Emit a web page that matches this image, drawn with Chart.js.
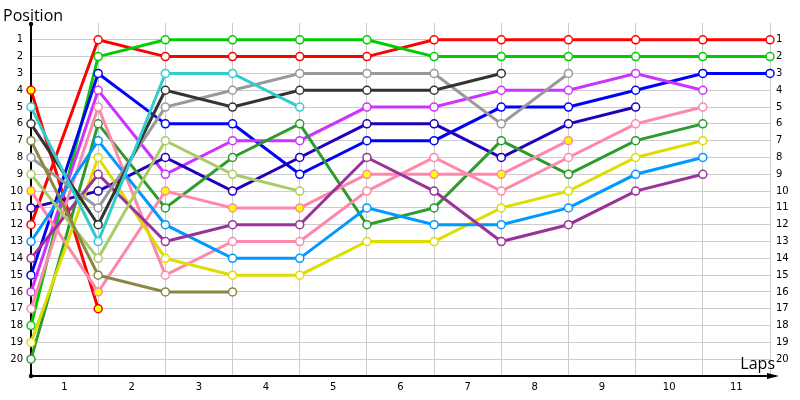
<!DOCTYPE html>
<html>
<head>
<meta charset="utf-8">
<script src="https://cdn.jsdelivr.net/npm/chart.js@4.4.1/dist/chart.umd.min.js"></script>
<style>
  html, body { margin: 0; padding: 0; background: #fff; }
  #wrap { width: 800px; height: 400px; }
</style>
</head>
<body>
<div id="wrap"><canvas id="lapChart"></canvas></div>
<script>
// lap 0 = grid, then laps 1..11
const laps = [0, 1, 2, 3, 4, 5, 6, 7, 8, 9, 10, 11];
const lapLabels = ['1', '2', '3', '4', '5', '6', '7', '8', '9', '10', '11'];
const positionLabels = [1, 2, 3, 4, 5, 6, 7, 8, 9, 10, 11, 12, 13, 14, 15, 16, 17, 18, 19, 20];

// position per lap for every car (shorter array = retired)
const redCar       = [12, 1, 2, 2, 2, 2, 1, 1, 1, 1, 1, 1];
const greenCar     = [18, 2, 1, 1, 1, 1, 2, 2, 2, 2, 2, 2];
const blueCar      = [15, 3, 6, 6, 9, 7, 7, 5, 5, 4, 3, 3];
const magentaCar   = [16, 4, 9, 7, 7, 5, 5, 4, 4, 3, 4];
const pinkCar      = [17, 5, 15, 13, 13, 10, 8, 10, 8, 6, 5];
const darkGreenCar = [20, 6, 11, 8, 6, 12, 11, 7, 9, 7, 6];
const yellowCar    = [19, 8, 14, 15, 15, 13, 13, 11, 10, 8, 7];
const skyCar       = [13, 7, 12, 14, 14, 11, 12, 12, 11, 9, 8];
const purpleCar    = [14, 9, 13, 12, 12, 8, 10, 13, 12, 10, 9];
const navyCar      = [11, 10, 8, 10, 8, 6, 6, 8, 6, 5];
const grayCar      = [8, 11, 5, 4, 3, 3, 3, 6, 3];
const pinkYellowCar = [10, 16, 10, 11, 11, 9, 9, 9, 7];
const blackCar     = [6, 12, 4, 5, 4, 4, 4, 3];
const cyanCar      = [5, 13, 3, 3, 5];
const lightGreenCar = [9, 14, 7, 9, 10];
const oliveCar     = [7, 15, 16, 16];
const red2Car      = [4, 17];

function series(positions, color, fill) {
    return {
        data: positions.map((p, i) => ({ x: laps[i], y: p })),
        borderColor: color,
        backgroundColor: color,
        borderWidth: 3,
        pointRadius: 4,
        pointHoverRadius: 4,
        pointBorderWidth: 1.5,
        pointBackgroundColor: fill || '#ffffff',
        pointBorderColor: color,
        tension: 0,
        clip: false
    };
}

const datasets = [
    series(oliveCar, '#888844'),
    series(lightGreenCar, '#aacc66'),
    series(cyanCar, '#33cccc'),
    series(blackCar, '#333333'),
    series(grayCar, '#999999'),
    series(purpleCar, '#993399'),
    series(skyCar, '#0099ff'),
    series(yellowCar, '#dddd00'),
    series(pinkYellowCar, '#ff88aa', '#ffff00'),
    series(pinkCar, '#ff88aa'),
    series(darkGreenCar, '#2e9b2e'),
    series(navyCar, '#2200bb'),
    series(magentaCar, '#cc33ff'),
    series(blueCar, '#0000ff'),
    series(red2Car, '#ff0000', '#ffff00'),
    series(greenCar, '#00cc00'),
    series(redCar, '#ff0000')
];

// axis titles, arrow and dots
const decor = {
    id: 'decor',
    afterDraw(chart) {
        const c = chart.ctx;
        const a = chart.chartArea;
        c.save();
        c.fillStyle = '#000';
        c.strokeStyle = '#000';
        c.lineWidth = 2;
        c.beginPath();
        c.moveTo(a.right, a.bottom);
        c.lineTo(a.right + 6, a.bottom);
        c.stroke();
        c.beginPath();
        c.moveTo(a.right + 9, a.bottom);
        c.lineTo(a.right - 3, a.bottom - 3);
        c.lineTo(a.right - 3, a.bottom + 3);
        c.closePath();
        c.fill();
        c.beginPath();
        c.arc(a.left, a.top + 1, 2.2, 0, Math.PI * 2);
        c.fill();
        c.beginPath();
        c.arc(a.left, a.bottom, 2.2, 0, Math.PI * 2);
        c.fill();
        c.font = '16px "Open Sans"';
        c.textBaseline = 'alphabetic';
        c.textAlign = 'left';
        c.fillText('Position', 3, 21);
        c.textAlign = 'right';
        c.fillText('Laps', a.right + 5, a.bottom - 7);
        c.restore();
    }
};

const tickFont = { family: '"DejaVu Sans"', size: 10 };

new Chart(document.getElementById('lapChart'), {
    type: 'line',
    data: { datasets: datasets },
    options: {
        responsive: true,
        maintainAspectRatio: false,
        animation: false,
        layout: { padding: { top: 23, left: 0, right: 0, bottom: 0 } },
        plugins: {
            legend: { display: false },
            tooltip: { enabled: false }
        },
        scales: {
            x: {
                type: 'linear',
                min: 0,
                max: 11,
                afterBuildTicks: (s) => { s.ticks = laps.map(v => ({ value: v })); },
                afterFit: (s) => { s.height = 24; },
                ticks: {
                    autoSkip: false,
                    maxRotation: 0,
                    labelOffset: 33.5,
                    padding: 5,
                    color: '#000',
                    font: tickFont,
                    callback: (v) => lapLabels[v] || ''
                },
                grid: {
                    color: '#cccccc',
                    drawTicks: false
                },
                border: { color: '#000', width: 2 }
            },
            y: {
                type: 'linear',
                position: 'left',
                min: 0,
                max: 21,
                reverse: true,
                afterBuildTicks: (s) => { s.ticks = [0].concat(positionLabels, [21]).map(v => ({ value: v })); },
                afterFit: (s) => { s.width = 31; },
                ticks: {
                    autoSkip: false,
                    padding: 8,
                    color: '#000',
                    font: tickFont,
                    callback: (v) => positionLabels.includes(v) ? String(v) : ''
                },
                grid: {
                    color: (ctx) => positionLabels.includes(ctx.tick.value) ? '#cccccc' : 'rgba(0,0,0,0)',
                    drawTicks: false
                },
                border: { color: '#000', width: 2 }
            },
            y2: {
                type: 'linear',
                position: 'right',
                min: 0,
                max: 21,
                reverse: true,
                afterBuildTicks: (s) => { s.ticks = [0].concat(positionLabels, [21]).map(v => ({ value: v })); },
                afterFit: (s) => { s.width = 30; },
                ticks: {
                    autoSkip: false,
                    padding: 6,
                    color: '#000',
                    font: tickFont,
                    callback: (v) => positionLabels.includes(v) ? String(v) : ''
                },
                grid: { display: false, drawTicks: false },
                border: { display: false }
            }
        }
    },
    plugins: [decor]
});
</script>
</body>
</html>
